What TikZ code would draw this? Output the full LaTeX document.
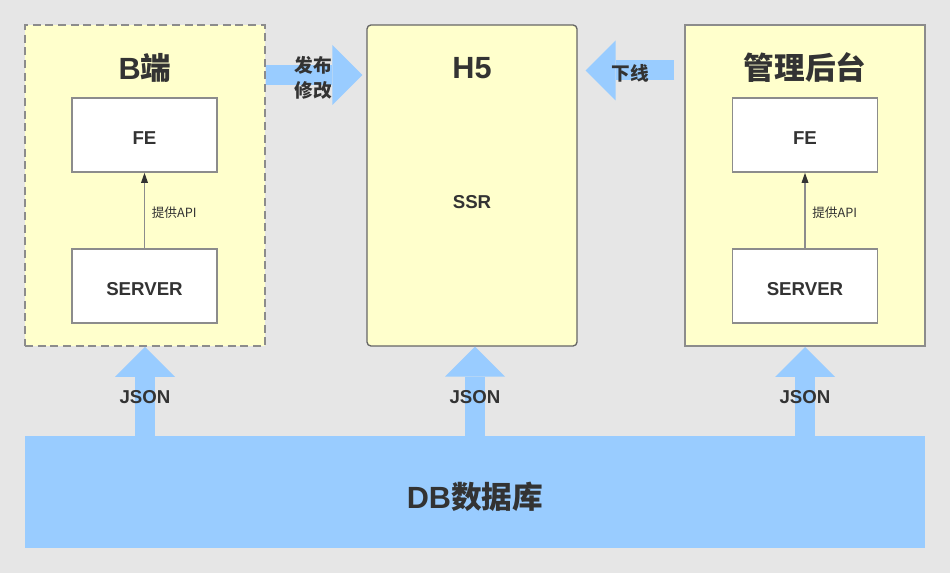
\documentclass[tikz,border=0pt]{standalone}
\usepackage{fontspec}
\setmainfont{Liberation Sans}
\newfontfamily\cjk{Noto Sans CJK SC}
\usepackage{xcolor}
\usetikzlibrary{arrows.meta,positioning,calc}

\definecolor{bgGray}{HTML}{E6E6E6}
\definecolor{paleYellow}{HTML}{FFFFCC}
\definecolor{lineGray}{HTML}{8C8C8C}
\definecolor{frameDark}{HTML}{666666}
\definecolor{textDark}{HTML}{333333}
\definecolor{skyBlue}{HTML}{99CCFF}

\tikzset{
    group/.style={fill=paleYellow, line width=1.5pt, minimum width=180pt, minimum height=240.75pt},
    part/.style={draw=lineGray, fill=white, line width=1.2pt, minimum width=108.75pt, minimum height=55.5pt,
        text height=14pt, text=textDark, font=\bfseries\fontsize{14}{16}\selectfont},
    title/.style={text=textDark, font=\bfseries\fontsize{23}{26}\selectfont},
    tag/.style={text=textDark, font=\bfseries\fontsize{14}{18.75}\selectfont, align=center},
    apitext/.style={midway, right, inner sep=2pt, xshift=3pt, yshift=-2pt, text=textDark, font=\cjk\fontsize{9.5}{11}\selectfont},
    blockarr/.style={draw=skyBlue, line width=15pt, -{Triangle[length=22.5pt, width=45pt, line width=0pt]}},
    apiarr/.style={draw=lineGray, line width=0.9pt, -{Triangle[length=7.5pt, width=5pt, color=textDark]}},
}

\begin{document}
\begin{tikzpicture}[x=0.75pt, y=-0.75pt]
    % canvas
    \fill[bgGray] (0,0) rectangle (950,573);

    % three columns
    \node[group, draw=lineGray, dash pattern=on 6pt off 3.5pt] (bside) at (145,185.5) {};
    \node[group, draw=frameDark, line width=1pt, rounded corners=3pt, minimum width=157.5pt] (h5) at (472,185.5) {};
    \node[group, draw=lineGray] (admin) at (805,185.5) {};

    \node[title] (bside-t) at (145,68) {B{\cjk 端}};
    \node[title] (h5-t) at (472,68) {H5};
    \node[title] (admin-t) at (805,68) {\cjk 管理后台};

    \node[part] (bfe) at (144.5,135) {FE};
    \node[part] (bsrv) at (144.5,286) {SERVER};
    \node[part] (afe) at (805,135) {FE};
    \node[part] (asrv) at (805,286) {SERVER};
    \node[text=textDark, font=\bfseries\fontsize{14}{16}\selectfont] (ssr) at (472,202) {SSR};

    \draw[apiarr] (bsrv) -- (bfe) node[apitext] (bapi) {提供API};
    \draw[apiarr] (asrv) -- (afe) node[apitext] (aapi) {提供API};

    % database
    \node[fill=skyBlue, minimum width=675pt, minimum height=84pt, text height=27pt, text=textDark,
        font=\bfseries\fontsize{23}{26}\selectfont] (db) at (475,492) {DB{\cjk 数据库}};

    % big arrows
    \coordinate (pubrow) at (0,75);
    \coordinate (offrow) at (0,70.5);
    \draw[blockarr] (bside.east |- pubrow) -- ([xshift=-3pt]h5.west |- pubrow);
    \draw[blockarr] ([xshift=-7.5pt]admin.west |- offrow) -- ([xshift=6pt]h5.east |- offrow);
    \draw[blockarr] (db.north -| bside.south) -- (bside.south);
    \draw[blockarr] (db.north) -- (db.north |- h5.south);
    \draw[blockarr] (db.north -| admin.south) -- (admin.south);

    \node[tag, font=\cjk\bfseries\fontsize{14}{18.75}\selectfont] (pub) at (313.5,77.5) {发布\\修改};
    \node[tag, font=\cjk\bfseries\fontsize{14}{18.75}\selectfont] (off) at (630,73) {下线};
    \node[tag] (json-b) at (145,397) {JSON};
    \node[tag] (json-h) at (475,397) {JSON};
    \node[tag] (json-a) at (805,397) {JSON};
\end{tikzpicture}
\end{document}
